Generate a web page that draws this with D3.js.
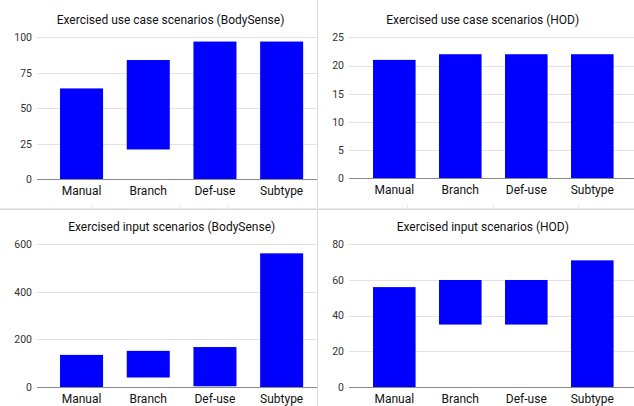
<!DOCTYPE html>
<html>
<head>
<meta charset="utf-8">
<script src="https://cdn.jsdelivr.net/npm/d3@7"></script>
<style>
  html, body { margin: 0; padding: 0; background: #fff; }
  svg { display: block; font-family: Roboto, "Noto Sans", sans-serif; }
</style>
</head>
<body>
<svg id="chart" width="634" height="406"></svg>
<script>
// ---- data ----
const categories = ["Manual", "Branch", "Def-use", "Subtype"];

const useCaseBodySenseLow  = [0, 21, 0, 0];
const useCaseBodySenseHigh = [64, 84, 97, 97];

const useCaseHODLow  = [0, 0, 0, 0];
const useCaseHODHigh = [21, 22, 22, 22];

const inputBodySenseLow  = [0, 40, 3, 0];
const inputBodySenseHigh = [135, 152, 168, 562];

const inputHODLow  = [0, 35, 35, 0];
const inputHODHigh = [56, 60, 60, 71];

const ticksUseCaseBodySense = [0, 25, 50, 75, 100];
const ticksUseCaseHOD = [0, 5, 10, 15, 20, 25];
const ticksInputBodySense = [0, 200, 400, 600];
const ticksInputHOD = [0, 20, 40, 60, 80];

const titles = [
  "Exercised use case scenarios (BodySense)",
  "Exercised use case scenarios (HOD)",
  "Exercised input scenarios (BodySense)",
  "Exercised input scenarios (HOD)"
];

// ---- drawing ----
const svg = d3.select("#chart");

// sheet cell borders
const borders = svg.append("g");
borders.append("line").attr("x1", 317.5).attr("x2", 317.5).attr("y1", 0).attr("y2", 406)
  .attr("stroke", "#dadada").attr("stroke-width", 1);
borders.append("line").attr("x1", 0).attr("x2", 634).attr("y1", 208.5).attr("y2", 208.5)
  .attr("stroke", "#ececec").attr("stroke-width", 1);
borders.append("line").attr("x1", 0).attr("x2", 634).attr("y1", 209.5).attr("y2", 209.5)
  .attr("stroke", "#d6d6d6").attr("stroke-width", 1);
[92.5, 180.5, 227.5, 407.5, 493.5, 578.5].forEach(x => {
  borders.append("line").attr("x1", x).attr("x2", x).attr("y1", 205).attr("y2", 209)
    .attr("stroke", "#e6e6e6");
});

function panel(cfg) {
  const g = svg.append("g");
  const y = d3.scaleLinear().domain([0, d3.max(cfg.ticks)]).range([cfg.y0, cfg.yTop]);
  const x = d3.scaleBand().domain(categories).range([cfg.bx0, cfg.bx1])
    .paddingInner(0.355).paddingOuter(0.1775);

  // gridlines
  g.append("g").selectAll("line").data(cfg.ticks.filter(t => t !== 0)).join("line")
    .attr("x1", cfg.gx0).attr("x2", cfg.gx1)
    .attr("y1", d => Math.round(y(d)) + 0.5).attr("y2", d => Math.round(y(d)) + 0.5)
    .attr("stroke", "#e3e3e3").attr("stroke-width", 1);

  // y tick labels
  g.append("g").selectAll("text").data(cfg.ticks).join("text")
    .attr("x", cfg.gx0 - 5).attr("y", d => y(d) + 3.8)
    .attr("text-anchor", "end").attr("font-size", "10.5px").attr("fill", "#333")
    .text(d => d);

  // bars
  g.append("g").selectAll("rect").data(categories).join("rect")
    .attr("x", d => x(d))
    .attr("width", x.bandwidth())
    .attr("y", (d, i) => y(cfg.high[i]))
    .attr("height", (d, i) => y(cfg.low[i]) - y(cfg.high[i]))
    .attr("fill", "#0000ff");

  // baseline
  g.append("line").attr("x1", cfg.gx0).attr("x2", cfg.gx1)
    .attr("y1", Math.round(y(0)) + 0.5).attr("y2", Math.round(y(0)) + 0.5)
    .attr("stroke", "#8a8a8a").attr("stroke-width", 1);

  // category labels
  g.append("g").selectAll("text").data(categories).join("text")
    .attr("x", d => x(d) + x.bandwidth() / 2).attr("y", cfg.catY)
    .attr("text-anchor", "middle").attr("font-size", "12px").attr("fill", "#111")
    .text(d => d);

  // title
  g.append("text").attr("x", cfg.titleX).attr("y", cfg.titleY)
    .attr("text-anchor", "middle").attr("font-size", "12px").attr("fill", "#111")
    .text(cfg.title);
}

panel({ title: titles[0], ticks: ticksUseCaseBodySense, low: useCaseBodySenseLow, high: useCaseBodySenseHigh,
  y0: 179.3, yTop: 37.3, bx0: 48.2, bx1: 315, gx0: 37, gx1: 317, catY: 195, titleX: 170.5, titleY: 23.5 });
panel({ title: titles[1], ticks: ticksUseCaseHOD, low: useCaseHODLow, high: useCaseHODHigh,
  y0: 178.3, yTop: 37.3, bx0: 361.3, bx1: 625.3, gx0: 349, gx1: 634, catY: 194, titleX: 482.7, titleY: 23.5 });
panel({ title: titles[2], ticks: ticksInputBodySense, low: inputBodySenseLow, high: inputBodySenseHigh,
  y0: 387, yTop: 244.3, bx0: 48.2, bx1: 315, gx0: 37, gx1: 317, catY: 403, titleX: 171.7, titleY: 231 });
panel({ title: titles[3], ticks: ticksInputHOD, low: inputHODLow, high: inputHODHigh,
  y0: 387, yTop: 244.3, bx0: 361.3, bx1: 625.3, gx0: 349, gx1: 634, catY: 403, titleX: 482.8, titleY: 231 });
</script>
</body>
</html>
